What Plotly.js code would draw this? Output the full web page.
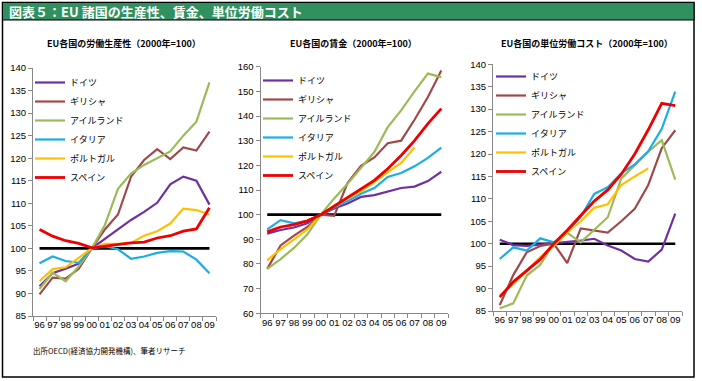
<!DOCTYPE html>
<html>
<head>
<meta charset="utf-8">
<script src="https://cdn.plot.ly/plotly-3.0.1.min.js"></script>
<style>
html,body{margin:0;padding:0;background:#fff;}
#chart{width:702px;height:381px;}
</style>
</head>
<body>
<div id="chart"></div>
<script>
// ---- data ----
const years = ["96","97","98","99","00","01","02","03","04","05","06","07","08","09"];
const countries = ["ドイツ","ギリシャ","アイルランド","イタリア","ポルトガル","スペイン"];
const colors = ["#7030A0","#A0494A","#9BBB59","#1CADE4","#FFC000","#EE0000"];
const baseValue = 100;

// Labour productivity (2000=100)
const prodGermany  = [91.6,94.5,95.5,96.6,100,102.2,104.2,106.3,108.1,110.1,114.2,115.9,115.0,109.7];
const prodGreece   = [89.8,93.5,93.3,95.5,100,104.2,107.5,115.9,119.6,122.0,119.8,122.4,121.7,125.9];
const prodIreland  = [91.0,94.6,92.7,96.0,100,105.2,113.2,116.6,118.5,120.0,121.5,125.0,128.1,136.8];
const prodItaly    = [96.7,98.2,97.2,96.8,100,100.5,99.8,97.7,98.2,99.0,99.4,99.3,97.5,94.5];
const prodPortugal = [92.7,95.4,95.8,97.8,100,101.0,101.0,101.2,102.8,103.8,105.5,108.8,108.5,107.5];
const prodSpain    = [104.2,102.7,101.7,101.1,100.1,100.5,100.9,101.2,101.4,102.3,102.8,103.8,104.3,109.0];

// Wages (2000=100)
const wageGermany  = [92.3,93.8,94.8,96.5,100,102.5,104.5,107.2,107.9,109.2,110.8,111.4,113.6,117.4];
const wageGreece   = [78.0,87.5,91.5,95.0,100,99.5,112.8,119.8,123.2,129.0,130.0,138.5,147.7,158.5];
const wageIreland  = [78.0,82.0,86.5,92.0,100,106.6,112.5,119.0,125.4,135.5,142.3,150.0,157.2,155.8];
const wageItaly    = [94.0,97.8,96.5,97.5,100,103.0,105.5,108.5,110.8,115.3,116.9,119.6,123.0,127.2];
const wagePortugal = [81.5,86.0,90.0,94.0,100,103.5,106.5,109.5,113.2,117.3,121.0,127.2,null,null];
const wageSpain    = [93.0,95.0,96.0,97.5,100,103.5,107.0,110.3,113.9,118.6,124.0,130.0,136.9,143.0];

// Unit labour cost (2000=100)
const ulcGermany  = [100.9,99.7,99.5,99.8,100,100.3,100.7,101.1,99.6,98.5,96.6,96.0,98.7,106.7];
const ulcGreece   = [86.3,93.0,98.1,99.5,100,95.7,103.4,103.0,102.5,105.0,107.8,113.1,121.3,125.3];
const ulcIreland  = [85.6,86.7,92.9,95.3,100,102.4,100.3,103.1,105.9,114.5,117.5,120.5,123.1,114.3];
const ulcItaly    = [96.6,99.2,98.5,101.2,100.3,102.5,106.0,111.1,112.6,115.7,117.7,120.6,125.6,133.9];
const ulcPortugal = [88.5,91.0,94.0,97.0,99.5,102.5,105.0,108.0,108.8,113.1,115.0,116.8,null,null];
const ulcSpain    = [88.1,91.5,94.0,96.5,100,103.0,106.3,109.5,112.0,115.5,120.0,125.4,131.3,130.8];

const panels = [
  {title:"EU各国の労働生産性（2000年=100）", series:[prodGermany,prodGreece,prodIreland,prodItaly,prodPortugal,prodSpain], range:[85,140], dtick:5},
  {title:"EU各国の賃金（2000年=100）", series:[wageGermany,wageGreece,wageIreland,wageItaly,wagePortugal,wageSpain], range:[60,160], dtick:10},
  {title:"EU各国の単位労働コスト（2000年=100）", series:[ulcGermany,ulcGreece,ulcIreland,ulcItaly,ulcPortugal,ulcSpain], range:[85,140], dtick:5}
];

// ---- layout geometry (pixels) ----
const W = 702, H = 381;
const boxes = [
  {x0:33, x1:216, y0:68, y1:316, legX:30, legY:68},
  {x0:260.5, x1:448, y0:66.7, y1:313.3, legX:258, legY:66},
  {x0:493, x1:682, y0:64.3, y1:311, legX:491, legY:62}
];
const px = v => v / W;
const py = v => 1 - v / H;

const FONT = "Liberation Sans, Arial, Noto Sans CJK JP, sans-serif";
const JFONT = "Noto Sans CJK JP, sans-serif";

const xIdx = years.map((_, i) => i);
const traces = [];
const layout = {
  width: W, height: H,
  margin: {l:0, r:0, t:0, b:0},
  paper_bgcolor: "#fff", plot_bgcolor: "rgba(0,0,0,0)",
  showlegend: true,
  font: {family: FONT, size: 9, color: "#000"},
  shapes: [], annotations: []
};

panels.forEach((p, k) => {
  const b = boxes[k];
  const sfx = k === 0 ? "" : String(k + 1);
  const xa = "x" + sfx, ya = "y" + sfx;
  const legName = k === 0 ? "legend" : "legend" + (k + 1);

  // baseline at 100
  traces.push({
    x: xIdx, y: years.map(() => baseValue), xaxis: xa, yaxis: ya,
    mode: "lines", line: {color: "#000", width: 2.6}, showlegend: false, hoverinfo: "skip"
  });
  p.series.forEach((s, j) => {
    traces.push({
      x: xIdx, y: s, xaxis: xa, yaxis: ya, name: countries[j],
      mode: "lines", line: {color: colors[j], width: j === 5 ? 2.8 : 2.2},
      legend: legName, connectgaps: false
    });
  });

  layout["xaxis" + sfx] = {
    domain: [px(b.x0), px(b.x1)], anchor: ya,
    range: [-0.5, 13.5], tickvals: xIdx, ticktext: years,
    showgrid: false, zeroline: false, showline: true, linecolor: "#888", linewidth: 1,
    ticks: "", tickfont: {family: FONT, size: 9.5, color: "#000"},
    minor: {tick0: -0.5, dtick: 1, ticks: "outside", ticklen: 4, tickcolor: "#888", showgrid: false},
    fixedrange: true
  };
  layout["yaxis" + sfx] = {
    domain: [py(b.y1), py(b.y0)], anchor: xa,
    range: p.range, dtick: p.dtick, tick0: 0,
    showgrid: false, zeroline: false, showline: true, linecolor: "#888", linewidth: 1,
    ticks: "outside", ticklen: 4, tickcolor: "#888",
    tickfont: {family: FONT, size: 9.5, color: "#000"}, fixedrange: true
  };
  layout[legName] = {
    x: px(b.legX), y: py(b.legY), xanchor: "left", yanchor: "top",
    bgcolor: "rgba(0,0,0,0)", borderwidth: 0, tracegroupgap: 0,
    font: {family: JFONT, size: 9, color: "#000"}
  };
  layout.annotations.push({
    xref: "paper", yref: "paper", x: px((b.x0 + b.x1) / 2 - 1), y: py(44),
    xanchor: "center", yanchor: "middle", showarrow: false,
    text: "<b>" + p.title + "</b>", font: {family: JFONT, size: 9, color: "#000"}
  });
});

// frame and title bar
layout.shapes.push({type:"rect", xref:"paper", yref:"paper", x0:px(2.5), x1:px(694), y0:py(377), y1:py(2.5), line:{color:"#000", width:1.5}, fillcolor:"rgba(0,0,0,0)", layer:"below"});
layout.shapes.push({type:"rect", xref:"paper", yref:"paper", x0:px(2.5), x1:px(694), y0:py(20), y1:py(2.5), line:{color:"#000", width:1}, fillcolor:"#31905F", layer:"below"});
layout.annotations.push({
  xref:"paper", yref:"paper", x:px(7), y:py(11.5), xanchor:"left", yanchor:"middle", showarrow:false,
  text:"<b>図表５：EU 諸国の生産性、賃金、単位労働コスト</b>", font:{family:JFONT, size:13, color:"#fff"}
});
layout.annotations.push({
  xref:"paper", yref:"paper", x:px(31), y:py(350), xanchor:"left", yanchor:"middle", showarrow:false,
  text:"出所OECD(経済協力開発機構)、筆者リサーチ", font:{family:JFONT, size:7.5, color:"#000"}
});

Plotly.newPlot("chart", traces, layout, {staticPlot: true, displayModeBar: false});
</script>
</body>
</html>
